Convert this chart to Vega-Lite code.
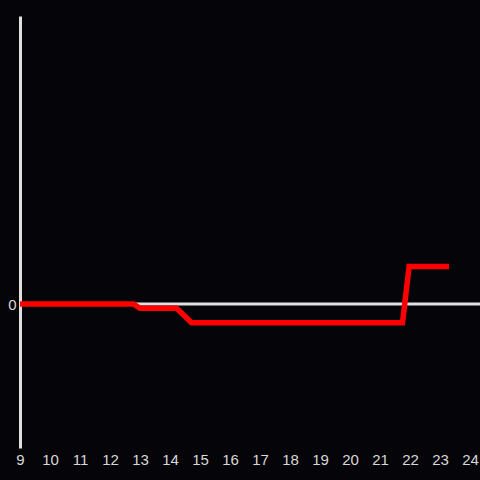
{
  "$schema": "https://vega.github.io/schema/vega-lite/v6.json",
  "width": 450,
  "height": 432,
  "autosize": {"type": "none"},
  "padding": {"left": 20, "top": 16, "right": 10, "bottom": 32},
  "background": "#050408",
  "config": {
    "view": {"stroke": null},
    "font": "Liberation Sans",
    "axis": {"labelColor": "#d8d8d8", "labelFontSize": 15, "ticks": false, "grid": false, "title": null, "labelOverlap": false, "labelFlush": false},
    "axisX": {"domain": false, "labelPadding": 4},
    "axisY": {"domain": true, "domainColor": "#e0e0e0", "domainWidth": 3, "labelPadding": 4}
  },
  "encoding": {
    "x": {"field": "x", "type": "quantitative", "scale": {"domain": [9, 24], "nice": false},
      "axis": {"title": null, "values": [9,10,11,12,13,14,15,16,17,18,19,20,21,22,23,24], "format": "d", "labelOverlap": false}},
    "y": {"field": "y", "type": "quantitative", "scale": {"domain": [-1, 2], "nice": false},
      "axis": {"title": null, "values": [0], "format": "d"}}
  },
  "layer": [
    {
      "data": {"values": [{"x": 9, "x2": 24.4, "y": 0}]},
      "mark": {"type": "rule", "color": "#e0e0e0", "strokeWidth": 3, "clip": false},
      "encoding": {
        "x2": {"field": "x2"}
      }
    },
    {
      "data": {"values": [
        {"x": 9, "y": 0},
        {"x": 12.78, "y": 0},
        {"x": 13.0, "y": -0.03},
        {"x": 14.22, "y": -0.03},
        {"x": 14.72, "y": -0.13},
        {"x": 21.75, "y": -0.13},
        {"x": 21.97, "y": 0.26},
        {"x": 23.3, "y": 0.26}
      ]},
      "mark": {"type": "line", "color": "#ff0000", "strokeWidth": 5.5, "strokeJoin": "miter"},
      "encoding": {}
    }
  ]
}
